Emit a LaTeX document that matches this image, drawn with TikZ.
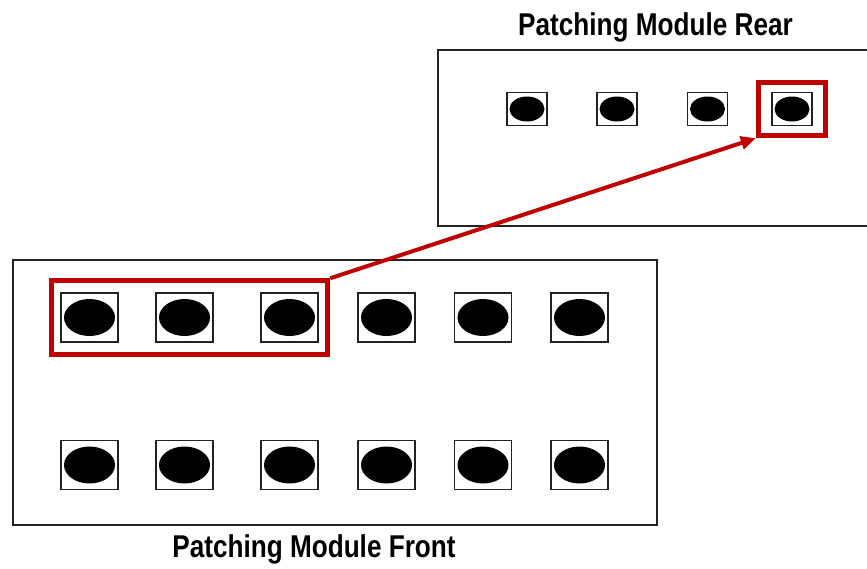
\documentclass[tikz,border=0pt]{standalone}
\usepackage{fontspec}
\usepackage{xcolor}
\usepackage{tikz}
\usetikzlibrary{arrows.meta,fit}
\newfontfamily\modfont[FakeStretch=0.83]{Liberation Sans}
\definecolor{hlred}{HTML}{C00000}
\definecolor{edgegray}{HTML}{222222}
\tikzset{>={Triangle[length=15pt,width=13pt]}}
\tikzset{
  panel/.style={draw=edgegray, line width=1.6pt},
  bigport/.style={draw=edgegray, line width=1.4pt, fill=white, inner sep=0pt,
    minimum width=57pt, minimum height=49pt,
    path picture={\fill[black] (path picture bounding box.center) ellipse (25.5pt and 18.5pt);}},
  smallport/.style={draw=edgegray, line width=1.3pt, fill=white, inner sep=0pt,
    minimum width=40pt, minimum height=33pt,
    path picture={\fill[black] (path picture bounding box.center) ellipse (17.5pt and 12.5pt);}},
  hl/.style={draw=hlred, line width=5pt, inner sep=0pt},
  title/.style={font=\modfont\bfseries\fontsize{31.5}{36}\selectfont, anchor=base, inner sep=0pt}
}

\begin{document}
\begin{tikzpicture}[x=1pt,y=-1pt]
  \useasboundingbox (0,0) rectangle (867,568);

  % rear module
  \draw[panel] (867,50)--(438,50)--(438,226)--(867,226);
  \foreach \x [count=\i] in {527,617,707.5,792}
    \node[smallport] (r\i) at (\x,109) {};
  \node[title] (reartitle) at (655.5,35) {Patching Module Rear};

  % front module
  \draw[panel] (13,260) rectangle (657,525);
  \foreach \x [count=\i] in {89.5,184.5,289.5,386.5,483,579.5} {
    \node[bigport] (f\i) at (\x,317.5) {};
    \node[bigport] (g\i) at (\x,465) {};
  }
  \node[title] (fronttitle) at (314,557) {Patching Module Front};

  % selection and patch
  \node[hl, inner xsep=9pt, inner ysep=11.5pt, fit=(f1)(f3)] (pick) {};
  \node[hl, inner xsep=13pt, inner ysep=9.5pt, fit=(r4)] (dest) {};
  \draw[->, hlred, line width=4pt] (pick.north east)--(dest.south west);

\end{tikzpicture}
\end{document}
